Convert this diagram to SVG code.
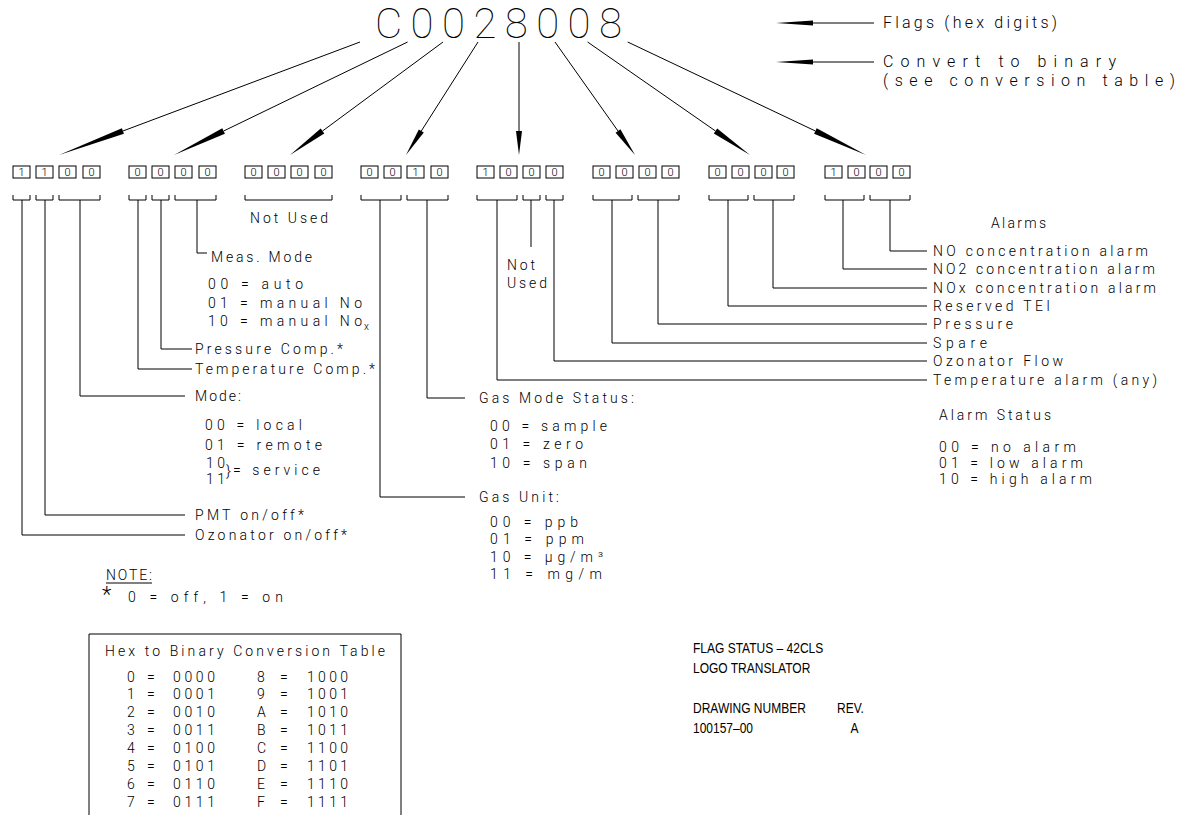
<svg xmlns="http://www.w3.org/2000/svg" width="1178" height="815" viewBox="0 0 1178 815">
<style>
  text { font-family: Roboto, "Liberation Sans", sans-serif; font-weight: 300; fill: #000; }
  .t { font-size: 14px; }
  .big { font-size: 42px; font-weight: 100; }
  .leg { font-size: 16px; }
  .bit { font-size: 11px; text-anchor: middle; }
  .tb { font-family: "Liberation Sans", Arial, sans-serif; font-weight: 400; font-size: 15px; }
  .ln { stroke: #000; stroke-width: 1; fill: none; }
  .box { stroke: #000; stroke-width: 1; fill: #fff; }
  .ah { fill: #000; stroke: none; }
</style>
<rect width="1178" height="815" fill="#fff"/>

<g id="title">
  <text class="big" x="375" y="38" textLength="247" lengthAdjust="spacing">C0028008</text>
</g>

<g id="legend">
  <line class="ln" x1="813" y1="23" x2="874" y2="23"/>
  <polygon class="ah" points="776,23 813,20.5 813,25.5"/>
  <text class="leg" x="883" y="28" textLength="174" lengthAdjust="spacing">Flags (hex digits)</text>
  <line class="ln" x1="813" y1="62" x2="874" y2="62"/>
  <polygon class="ah" points="776,62 813,59.5 813,64.5"/>
  <text class="leg" x="883" y="67" textLength="233" lengthAdjust="spacing">Convert to binary</text>
  <text class="leg" x="883" y="86" textLength="292" lengthAdjust="spacing">(see conversion table)</text>
</g>

<g id="connectors">
  <line class="ln" x1="360" y1="42" x2="122.9" y2="131"/>
  <polygon class="ah" points="59,155 123.9,133.8 121.9,128.2"/>
  <line class="ln" x1="407.6" y1="42" x2="223.6" y2="131"/>
  <polygon class="ah" points="174,155 224.9,133.7 222.3,128.3"/>
  <line class="ln" x1="443" y1="42" x2="322.5" y2="131"/>
  <polygon class="ah" points="290,155 324.3,133.4 320.7,128.6"/>
  <line class="ln" x1="478" y1="42" x2="421.3" y2="131"/>
  <polygon class="ah" points="406,155 423.8,132.6 418.8,129.4"/>
  <line class="ln" x1="519" y1="42" x2="519" y2="131"/>
  <polygon class="ah" points="519,155 522,131 516,131"/>
  <line class="ln" x1="555" y1="42" x2="618" y2="131"/>
  <polygon class="ah" points="635,155 615.6,132.7 620.4,129.3"/>
  <line class="ln" x1="587.6" y1="42" x2="715.5" y2="131"/>
  <polygon class="ah" points="750,155 713.8,133.5 717.2,128.5"/>
  <line class="ln" x1="627.7" y1="42" x2="815.4" y2="131"/>
  <polygon class="ah" points="866,155 814.1,133.7 816.7,128.3"/>

  <path class="ln" d="M13,195 V200 H30 V195 M36,195 V200 H53 V195 M59,195 V200 H100 V195
    M129,195 V200 H146 V195 M152,195 V200 H169 V195 M175,195 V200 H216 V195
    M245,195 V200 H332 V195
    M361,195 V200 H401 V195 M407,195 V200 H448 V195
    M477,195 V200 H517 V195 M523,195 V200 H540 V195 M546,195 V200 H563 V195
    M593,195 V200 H632 V195 M638,195 V200 H679 V195
    M709,195 V200 H748 V195 M754,195 V200 H794 V195
    M825,195 V200 H864 V195 M870,195 V200 H910 V195"/>

  <path class="ln" d="M22,200 V535 H185"/>
  <path class="ln" d="M45,200 V515 H185"/>
  <path class="ln" d="M80,200 V396 H185"/>
  <path class="ln" d="M138,200 V369 H192"/>
  <path class="ln" d="M161,200 V349 H192"/>
  <path class="ln" d="M197,200 V253 H207"/>
  <path class="ln" d="M380,200 V497 H465"/>
  <path class="ln" d="M427,200 V398 H465"/>
  <path class="ln" d="M497,200 V380 H927"/>
  <path class="ln" d="M531,200 V247"/>
  <path class="ln" d="M554,200 V361 H927"/>
  <path class="ln" d="M612,200 V343 H927"/>
  <path class="ln" d="M658,200 V324 H927"/>
  <path class="ln" d="M728,200 V306 H927"/>
  <path class="ln" d="M773,200 V288 H927"/>
  <path class="ln" d="M843,200 V269 H927"/>
  <path class="ln" d="M890,200 V251 H927"/>
</g>

<g id="flag1">
  <rect class="box" x="13" y="166" width="17" height="12"/><text class="bit" x="21.5" y="176">1</text>
  <rect class="box" x="36" y="166" width="17" height="12"/><text class="bit" x="44.5" y="176">1</text>
  <rect class="box" x="59" y="166" width="17" height="12"/><text class="bit" x="67.5" y="176">0</text>
  <rect class="box" x="83" y="166" width="17" height="12"/><text class="bit" x="91.5" y="176">0</text>
</g>
<g id="flag2">
  <rect class="box" x="129" y="166" width="17" height="12"/><text class="bit" x="137.5" y="176">0</text>
  <rect class="box" x="152" y="166" width="17" height="12"/><text class="bit" x="160.5" y="176">0</text>
  <rect class="box" x="175" y="166" width="17" height="12"/><text class="bit" x="183.5" y="176">0</text>
  <rect class="box" x="199" y="166" width="17" height="12"/><text class="bit" x="207.5" y="176">0</text>
</g>
<g id="flag3">
  <rect class="box" x="245" y="166" width="17" height="12"/><text class="bit" x="253.5" y="176">0</text>
  <rect class="box" x="268" y="166" width="17" height="12"/><text class="bit" x="276.5" y="176">0</text>
  <rect class="box" x="291" y="166" width="17" height="12"/><text class="bit" x="299.5" y="176">0</text>
  <rect class="box" x="315" y="166" width="17" height="12"/><text class="bit" x="323.5" y="176">0</text>
  <text class="t" x="250" y="223" textLength="78" lengthAdjust="spacing">Not Used</text>
</g>
<g id="flag4">
  <rect class="box" x="361" y="166" width="17" height="12"/><text class="bit" x="369.5" y="176">0</text>
  <rect class="box" x="384" y="166" width="17" height="12"/><text class="bit" x="392.5" y="176">0</text>
  <rect class="box" x="407" y="166" width="17" height="12"/><text class="bit" x="415.5" y="176">1</text>
  <rect class="box" x="431" y="166" width="17" height="12"/><text class="bit" x="439.5" y="176">0</text>
</g>
<g id="flag5">
  <rect class="box" x="477" y="166" width="17" height="12"/><text class="bit" x="485.5" y="176">1</text>
  <rect class="box" x="500" y="166" width="17" height="12"/><text class="bit" x="508.5" y="176">0</text>
  <rect class="box" x="523" y="166" width="17" height="12"/><text class="bit" x="531.5" y="176">0</text>
  <rect class="box" x="546" y="166" width="17" height="12"/><text class="bit" x="554.5" y="176">0</text>
</g>
<g id="flag6">
  <rect class="box" x="593" y="166" width="17" height="12"/><text class="bit" x="601.5" y="176">0</text>
  <rect class="box" x="616" y="166" width="17" height="12"/><text class="bit" x="624.5" y="176">0</text>
  <rect class="box" x="639" y="166" width="17" height="12"/><text class="bit" x="647.5" y="176">0</text>
  <rect class="box" x="662" y="166" width="17" height="12"/><text class="bit" x="670.5" y="176">0</text>
</g>
<g id="flag7">
  <rect class="box" x="709" y="166" width="17" height="12"/><text class="bit" x="717.5" y="176">0</text>
  <rect class="box" x="732" y="166" width="17" height="12"/><text class="bit" x="740.5" y="176">0</text>
  <rect class="box" x="755" y="166" width="17" height="12"/><text class="bit" x="763.5" y="176">0</text>
  <rect class="box" x="777" y="166" width="17" height="12"/><text class="bit" x="785.5" y="176">0</text>
</g>
<g id="flag8">
  <rect class="box" x="825" y="166" width="17" height="12"/><text class="bit" x="833.5" y="176">1</text>
  <rect class="box" x="848" y="166" width="17" height="12"/><text class="bit" x="856.5" y="176">0</text>
  <rect class="box" x="870" y="166" width="17" height="12"/><text class="bit" x="878.5" y="176">0</text>
  <rect class="box" x="893" y="166" width="17" height="12"/><text class="bit" x="901.5" y="176">0</text>
</g>

<g id="meas-mode">
  <text class="t" x="211" y="262" textLength="101" lengthAdjust="spacing">Meas. Mode</text>
  <text class="t" x="208" y="289" textLength="95" lengthAdjust="spacing">00 = auto</text>
  <text class="t" x="208" y="308" textLength="154" lengthAdjust="spacing">01 = manual No</text>
  <text class="t" x="208" y="326" textLength="154" lengthAdjust="spacing">10 = manual No</text>
  <text class="t" x="364" y="330" style="font-size:10px">x</text>
</g>
<g id="pressure-comp"><text class="t" x="195" y="354" textLength="148" lengthAdjust="spacing">Pressure Comp.*</text></g>
<g id="temperature-comp"><text class="t" x="195" y="374" textLength="180" lengthAdjust="spacing">Temperature Comp.*</text></g>
<g id="mode">
  <text class="t" x="195" y="401" textLength="46" lengthAdjust="spacing">Mode:</text>
  <text class="t" x="205" y="430" textLength="97" lengthAdjust="spacing">00 = local</text>
  <text class="t" x="205" y="450" textLength="117" lengthAdjust="spacing">01 = remote</text>
  <text class="t" x="206" y="468" textLength="19" lengthAdjust="spacing">10</text>
  <text class="t" x="206" y="484" textLength="19" lengthAdjust="spacing">11</text>
  <text class="t" x="226" y="476" style="font-size:15px">}</text>
  <text class="t" x="233" y="475" textLength="87" lengthAdjust="spacing">= service</text>
</g>
<g id="pmt"><text class="t" x="195" y="520" textLength="109" lengthAdjust="spacing">PMT on/off*</text></g>
<g id="ozonator"><text class="t" x="195" y="540" textLength="152" lengthAdjust="spacing">Ozonator on/off*</text></g>
<g id="note">
  <text class="t" x="106" y="580" textLength="46" lengthAdjust="spacing">NOTE:</text>
  <line class="ln" x1="106" y1="583" x2="152" y2="583"/>
  <text x="102" y="602" style="font-size:22px">*</text>
  <text class="t" x="128" y="602" textLength="155" lengthAdjust="spacing">0 = off, 1 = on</text>
</g>

<g id="not-used-5">
  <text class="t" x="507" y="270" textLength="28" lengthAdjust="spacing">Not</text>
  <text class="t" x="507" y="288" textLength="40" lengthAdjust="spacing">Used</text>
</g>
<g id="gas-mode">
  <text class="t" x="479" y="403" textLength="155" lengthAdjust="spacing">Gas Mode Status:</text>
  <text class="t" x="490" y="431" textLength="117" lengthAdjust="spacing">00 = sample</text>
  <text class="t" x="490" y="449" textLength="93" lengthAdjust="spacing">01 = zero</text>
  <text class="t" x="490" y="468" textLength="97" lengthAdjust="spacing">10 = span</text>
</g>
<g id="gas-unit">
  <text class="t" x="479" y="502" textLength="80" lengthAdjust="spacing">Gas Unit:</text>
  <text class="t" x="490" y="527" textLength="88" lengthAdjust="spacing">00 = ppb</text>
  <text class="t" x="490" y="544" textLength="94" lengthAdjust="spacing">01 = ppm</text>
  <text class="t" x="490" y="562" textLength="113" lengthAdjust="spacing">10 = µg/m³</text>
  <text class="t" x="490" y="579" textLength="112" lengthAdjust="spacing">11 = mg/m</text>
</g>

<g id="alarms">
  <text class="t" x="991" y="228" textLength="55" lengthAdjust="spacing">Alarms</text>
  <text class="t" x="933" y="256" textLength="215" lengthAdjust="spacing">NO concentration alarm</text>
  <text class="t" x="933" y="274" textLength="222" lengthAdjust="spacing">NO2 concentration alarm</text>
  <text class="t" x="933" y="293" textLength="223" lengthAdjust="spacing">NOx concentration alarm</text>
  <text class="t" x="933" y="311" textLength="117" lengthAdjust="spacing">Reserved TEI</text>
  <text class="t" x="933" y="329" textLength="80" lengthAdjust="spacing">Pressure</text>
  <text class="t" x="933" y="348" textLength="54" lengthAdjust="spacing">Spare</text>
  <text class="t" x="933" y="366" textLength="130" lengthAdjust="spacing">Ozonator Flow</text>
  <text class="t" x="933" y="385" textLength="224" lengthAdjust="spacing">Temperature alarm (any)</text>
</g>
<g id="alarm-status">
  <text class="t" x="939" y="420" textLength="112" lengthAdjust="spacing">Alarm Status</text>
  <text class="t" x="939" y="452" textLength="137" lengthAdjust="spacing">00 = no alarm</text>
  <text class="t" x="939" y="468" textLength="144" lengthAdjust="spacing">01 = low alarm</text>
  <text class="t" x="939" y="484" textLength="153" lengthAdjust="spacing">10 = high alarm</text>
</g>

<g id="conversion-table">
  <path class="ln" d="M89,815 V634 H401 V815"/>
  <text class="t" x="105" y="656" textLength="280" lengthAdjust="spacing">Hex to Binary Conversion Table</text>
  <text class="t" x="127" y="682">0</text><text class="t" x="147" y="682">=</text><text class="t" x="173" y="682" textLength="42" lengthAdjust="spacing">0000</text>
  <text class="t" x="127" y="699">1</text><text class="t" x="147" y="699">=</text><text class="t" x="173" y="699" textLength="42" lengthAdjust="spacing">0001</text>
  <text class="t" x="127" y="717">2</text><text class="t" x="147" y="717">=</text><text class="t" x="173" y="717" textLength="42" lengthAdjust="spacing">0010</text>
  <text class="t" x="127" y="735">3</text><text class="t" x="147" y="735">=</text><text class="t" x="173" y="735" textLength="42" lengthAdjust="spacing">0011</text>
  <text class="t" x="127" y="753">4</text><text class="t" x="147" y="753">=</text><text class="t" x="173" y="753" textLength="42" lengthAdjust="spacing">0100</text>
  <text class="t" x="127" y="771">5</text><text class="t" x="147" y="771">=</text><text class="t" x="173" y="771" textLength="42" lengthAdjust="spacing">0101</text>
  <text class="t" x="127" y="789">6</text><text class="t" x="147" y="789">=</text><text class="t" x="173" y="789" textLength="42" lengthAdjust="spacing">0110</text>
  <text class="t" x="127" y="807">7</text><text class="t" x="147" y="807">=</text><text class="t" x="173" y="807" textLength="42" lengthAdjust="spacing">0111</text>
  <text class="t" x="257" y="682">8</text><text class="t" x="280" y="682">=</text><text class="t" x="307" y="682" textLength="41" lengthAdjust="spacing">1000</text>
  <text class="t" x="257" y="699">9</text><text class="t" x="280" y="699">=</text><text class="t" x="307" y="699" textLength="41" lengthAdjust="spacing">1001</text>
  <text class="t" x="257" y="717">A</text><text class="t" x="280" y="717">=</text><text class="t" x="307" y="717" textLength="41" lengthAdjust="spacing">1010</text>
  <text class="t" x="257" y="735">B</text><text class="t" x="280" y="735">=</text><text class="t" x="307" y="735" textLength="41" lengthAdjust="spacing">1011</text>
  <text class="t" x="257" y="753">C</text><text class="t" x="280" y="753">=</text><text class="t" x="307" y="753" textLength="41" lengthAdjust="spacing">1100</text>
  <text class="t" x="257" y="771">D</text><text class="t" x="280" y="771">=</text><text class="t" x="307" y="771" textLength="41" lengthAdjust="spacing">1101</text>
  <text class="t" x="257" y="789">E</text><text class="t" x="280" y="789">=</text><text class="t" x="307" y="789" textLength="41" lengthAdjust="spacing">1110</text>
  <text class="t" x="257" y="807">F</text><text class="t" x="280" y="807">=</text><text class="t" x="307" y="807" textLength="41" lengthAdjust="spacing">1111</text>
</g>

<g id="title-block" transform="translate(693,0) scale(0.8,1)">
  <text class="tb" x="0" y="653">FLAG STATUS – 42CLS</text>
  <text class="tb" x="0" y="673">LOGO TRANSLATOR</text>
  <text class="tb" x="0" y="713">DRAWING NUMBER</text>
  <text class="tb" x="180" y="713">REV.</text>
  <text class="tb" x="0" y="733">100157–00</text>
  <text class="tb" x="197" y="733">A</text>
</g>
</svg>
